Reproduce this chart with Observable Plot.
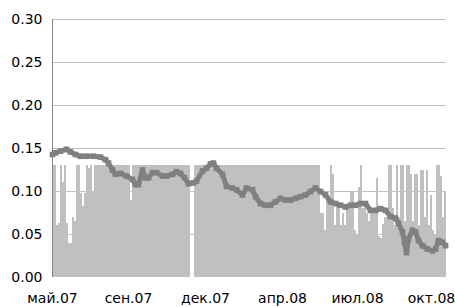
<!DOCTYPE html>
<html><head><meta charset="utf-8">
<script src="https://cdn.jsdelivr.net/npm/d3@7"></script>
<script src="https://cdn.jsdelivr.net/npm/@observablehq/plot@0.6"></script>
<style>body{margin:0;background:#fff}</style>
</head><body><div id="chart"></div>
<script>
// Bar values (one per trading-day bucket)
const barValues = [
  0.13,0.13,0.06,0.063,0.13,0.11,0.13,0.063,0.04,0.04,
  0.07,0.065,0.13,0.13,0.098,0.082,0.098,0.13,0.127,0.13,
  0.10,0.13,0.13,0.13,0.13,0.13,0.13,0.13,0.13,0.13,
  0.13,0.13,0.13,0.13,0.13,0.13,0.13,0.13,0.13,0.09,
  0.13,0.13,0.13,0.13,0.13,0.13,0.13,0.13,0.13,0.13,
  0.13,0.13,0.13,0.13,0.13,0.13,0.13,0.13,0.13,0.13,
  0.13,0.13,0.13,0.13,0.13,0.13,0.13,0.13,0.13,0,
  0,0.13,0.13,0.13,0.13,0.13,0.13,0.13,0.13,0.13,
  0.13,0.13,0.13,0.13,0.13,0.13,0.13,0.13,0.13,0.13,
  0.13,0.13,0.13,0.13,0.13,0.13,0.13,0.13,0.13,0.13,
  0.13,0.13,0.13,0.13,0.13,0.13,0.13,0.13,0.13,0.13,
  0.13,0.13,0.13,0.13,0.13,0.13,0.13,0.13,0.13,0.13,
  0.13,0.13,0.13,0.13,0.13,0.13,0.13,0.13,0.13,0.13,
  0.13,0.13,0.13,0.13,0.075,0.075,0.055,0.10,0.09,0.13,
  0.12,0.06,0.083,0.083,0.06,0.075,0.06,0.08,0.085,0.10,
  0.10,0.055,0.05,0.105,0.13,0.08,0.085,0.075,0.065,0.075,
  0.08,0.078,0.115,0.048,0.045,0.062,0.07,0.07,0.13,0.13,
  0.08,0.06,0.13,0.07,0.13,0.13,0.065,0.13,0.13,0.12,
  0.065,0.12,0.12,0.06,0.125,0.125,0.07,0.125,0.06,0.095,
  0.055,0.05,0.13,0.13,0.118,0.07,0.10
];
// Line series (position in buckets, value)
const lineIdx = [0,1.5,4,7,9,11.5,14,17,20.5,24,26.5,28,30,31.5,34,37,40,41.5,43,45,46.5,48,50,52,55,57,60,62,64,66,68,70.5,72,75,77,79,80.5,82,85,87,90,92,95,97,100,101.5,104,106.5,109,111.5,114,116.5,119,121.5,124,126.5,129,131.5,134,136.5,139,141.5,144,146.5,149,151.5,154,156.5,159,161.5,164,166.5,169,171.5,173,175,176,177,178,180,181.5,183,185,187.5,190,191.5,193,195,196.5];
const lineVal = [0.143,0.145,0.147,0.149,0.146,0.143,0.141,0.141,0.141,0.140,0.137,0.133,0.125,0.120,0.121,0.118,0.114,0.108,0.108,0.125,0.116,0.116,0.122,0.122,0.118,0.118,0.120,0.123,0.121,0.116,0.109,0.110,0.112,0.124,0.127,0.132,0.133,0.127,0.120,0.106,0.104,0.102,0.096,0.104,0.102,0.094,0.086,0.084,0.084,0.088,0.092,0.090,0.090,0.092,0.094,0.096,0.100,0.104,0.100,0.096,0.088,0.086,0.084,0.082,0.084,0.084,0.086,0.086,0.078,0.078,0.080,0.078,0.071,0.069,0.063,0.053,0.041,0.029,0.045,0.055,0.053,0.043,0.037,0.033,0.031,0.033,0.043,0.041,0.037];
const tickIdx = [0, 38, 76.5, 115, 152.5, 189.5];
const tickLabels = ["май.07","сен.07","дек.07","апр.08","июл.08","окт.08"];
const yTicks = [0, 0.05, 0.10, 0.15, 0.20, 0.25, 0.30];

const bars = barValues.map((v, i) => ({i, v}));
const line = lineIdx.map((x, k) => ({x, v: lineVal[k]}));

const chart = Plot.plot({
  width: 455, height: 307,
  marginLeft: 52, marginRight: 9, marginTop: 19, marginBottom: 30,
  style: {fontFamily: "DejaVu Sans", fontSize: "14px", color: "#000", background: "#fff"},
  x: {domain: [0, barValues.length], label: null},
  y: {domain: [0, 0.3], label: null},
  marks: [
    Plot.ruleY(yTicks.slice(1), {stroke: "#c0c0c0", strokeOpacity: 1}),
    Plot.rect(bars, {x1: "i", x2: d => d.i + 1, y1: d => 0, y2: "v", fill: "#c0c0c0", shapeRendering: "crispEdges"}),
    Plot.ruleX([0], {stroke: "#868686", strokeOpacity: 1}),
    Plot.line(line, {x: "x", y: "v", stroke: "#808080", strokeWidth: 5}),
    Plot.dot(line, {x: "x", y: "v", symbol: "square", r: 3.2, fill: "#808080", stroke: "none"}),
    Plot.axisY({ticks: yTicks, tickFormat: d => d.toFixed(2), tickSize: 0, tickPadding: 10, fill: "#000", label: null}),
    Plot.axisX({ticks: tickIdx, tickFormat: d => tickLabels[tickIdx.indexOf(d)], tickSize: 0, tickPadding: 16, fill: "#000", label: null})
  ]
});
document.getElementById("chart").appendChild(chart);
</script>
</body></html>
